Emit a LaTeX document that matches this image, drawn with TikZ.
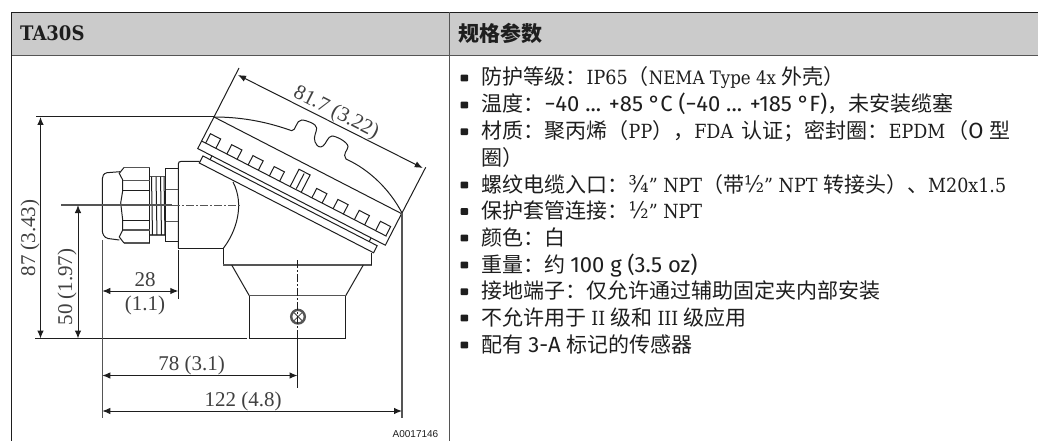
\documentclass[tikz,border=0pt]{standalone}
\usepackage{fontspec}
\setmainfont{DejaVu Serif Condensed}
\newfontfamily\cjk{Noto Sans CJK SC}
\newfontfamily\dimfont{Liberation Serif}
\newfontfamily\tagfont{Liberation Sans}
\newfontfamily\numfont{Fira Sans}
\newcommand{\Z}[1]{{\cjk\fontsize{21}{22}\selectfont #1}}
\newcommand{\Q}[1]{{\numfont\fontsize{22}{22}\selectfont #1}}
\definecolor{inkc}{HTML}{1E1E1E}
\definecolor{headc}{HTML}{CBCBCB}
\definecolor{rulec}{HTML}{555555}
\definecolor{dimc}{HTML}{404040}
\usetikzlibrary{arrows.meta}
\tikzset{
  x=1pt,y=-1pt,
  ink/.style={draw=inkc,line width=1pt},
  soft/.style={draw=rulec,line width=1.4pt},
  dimtip/.style={draw=inkc,line width=1pt,{Latex[length=8pt,width=6.5pt]}-{Latex[length=8pt,width=6.5pt]}},
  dimtext/.style={font=\dimfont\fontsize{21}{22}\selectfont,text=dimc,inner sep=0pt},
  row/.style={anchor=base west,inner sep=0pt,text=inkc,font=\fontsize{19.5}{22}\selectfont},
  bullet/.style={fill=inkc,draw=none,rounded corners=0.8pt},
  toprule/.style={draw=inkc,line width=1.2pt},
  midrule/.style={draw=rulec,line width=1.6pt},
}
\newcommand{\itemrow}[3]{%
  \fill[bullet] (460.5,#1-3.3) rectangle (468,#1+3.3);
  \node[row] (#2) at (481.5,#1+7) {#3};}
\begin{document}
\begin{tikzpicture}
\useasboundingbox (0,0) rectangle (1038,441);
\fill[white] (0,0) rectangle (1038,441);
% table
\fill[headc] (11.5,12.5) rectangle (1038,55);
\draw[toprule] (11.5,12.5) -- (1038,12.5);
\draw[midrule] (11.5,55.5) -- (1038,55.5);
\draw[draw=inkc,line width=1pt] (11.5,12.5) -- (11.5,441);
\draw[draw=rulec,line width=1.2pt] (449.5,12.5) -- (449.5,441);
\node[row,font=\bfseries\fontsize{20}{22}\selectfont] (h1) at (20,41) {TA30S};
\node[row,font=\cjk\bfseries\fontsize{21}{22}\selectfont] (h2) at (458,42) {规格参数};
% rows
\itemrow{78}{r1}{\Z{防护等级：}IP65\Z{（}{\fontsize{18.5}{22}\selectfont NEMA Type 4x }\Z{外壳）}}
\itemrow{105}{r2}{\Z{温度：}\Q{−40 ... +85 °C (−40 ... +185 °F)}\Z{，未安装缆塞}}
\itemrow{131.7}{r3}{\Z{材质：聚丙烯（}PP\Z{），}FDA\hspace{3pt} \Z{认证；密封圈：}EPDM\hspace{2pt}\Z{（}\Q{O} \Z{型}}
\node[row] (r3b) at (481.5,165) {\Z{圈）}};
\itemrow{185}{r4}{\Z{螺纹电缆入口：}{\fontsize{23}{22}\selectfont ¾}" NPT\Z{（带}{\fontsize{23}{22}\selectfont ½}" NPT \Z{转接头）、}M20x1.5}
\itemrow{211.5}{r5}{\Z{保护套管连接：}{\fontsize{23}{22}\selectfont ½}" NPT}
\itemrow{238}{r6}{\Z{颜色：白}}
\itemrow{265}{r7}{\Z{重量：约 }\Q{100 g (3.5 oz)}}
\itemrow{291.7}{r8}{\Z{接地端子：仅允许通过辅助固定夹内部安装}}
\itemrow{318}{r9}{\Z{不允许用于 }II \Z{级和 }III \Z{级应用}}
\itemrow{345}{r10}{\Z{配有 }\Q{3-A} \Z{标记的传感器}}
% housing body
\draw[ink] (178.3,248.3) -- (178.3,164) .. controls (178.3,162) and (179.5,161.5) .. (181.5,161.3) -- (199.5,161.3);
\draw[ink] (178.3,248.3) -- (223.3,248.3) -- (223.3,265);
\draw[ink] (223.3,248.3) .. controls (236,232) and (245,205) .. (233,182);
\draw[soft] (223.3,265) -- (371.7,265);
\draw[ink] (371.7,265) -- (371.7,253);
\draw[ink] (231.7,265) -- (249.3,295.7);
\draw[ink] (363.3,265) -- (345.7,295.7);
\draw[soft] (249.3,295.7) -- (345.7,295.7);
\draw[ink] (249.3,295.7) -- (249.3,338.5) -- (345.7,338.5) -- (345.7,295.7);
% earth screw
\draw[draw=rulec,line width=2.4pt] (298,316.7) circle (6.8);
\draw[draw=rulec,line width=1pt] (294,312.7) -- (302,320.7) (302,312.7) -- (294,320.7);
% cable gland
\draw[ink] (120,171.7) -- (107,172.7) .. controls (103.5,173.5) and (102.3,176) .. (102.3,179) -- (102.3,230) .. controls (102.3,234) and (104,237.5) .. (108,238.5) -- (119.3,240);
\draw[soft] (124,167.5) -- (149.5,167.5);
\draw[soft] (124,243) -- (149.5,243);
\draw[ink] (149.5,167.5) -- (149.5,243);
\draw[ink] (124,167.5) -- (119.3,173.3) -- (122.7,180) -- (122.7,190.7) -- (120.7,203) -- (122.7,220) -- (122.7,230) -- (119.3,237) -- (124,243);
\draw[soft] (122.7,180.5) -- (149.5,180.5);
\draw[ink] (122.7,190.7) -- (149.5,190.7) (122.7,220) -- (149.5,220);
\draw[soft] (122.7,230) -- (149.5,230);
\draw[soft] (150,176.7) -- (165.7,176.7) (150,235) -- (165.7,235);
\draw[ink] (151.5,176.7) -- (152.5,235) (156,176.7) -- (157,235) (160.5,176.7) -- (161.5,235) (164,176.7) -- (165,235);
\draw[ink] (165.7,168) rectangle (178.3,241.7);
\draw[soft] (165.7,189.3) -- (178.3,189.3) (165.7,221.7) -- (178.3,221.7);
% lid, in its own tilted axes
\begin{scope}[shift={(214,117)},x={(0.889pt,-0.458pt)},y={(-0.458pt,-0.889pt)}]
\draw[ink] (0,0) -- (211,0);
\draw[ink] (0,0) -- (0,35.5) -- (211,35.5) -- (211,0);
\draw[ink] (0,27) -- (208,27);
\foreach \s in {4.5,28.4,52.3,76.2,124,147.9,171.8,195.7}
  \draw[ink] (\s,27) -- (\s,16.5) -- (\s+11.5,16.5) -- (\s+11.5,27);
\draw[ink] (99.5,27) -- (99.5,7.5) -- (112,7.5) -- (112,27);
\draw[ink] (106,9) -- (106,26);
\draw[ink] (8,39.7) -- (204,39.7) -- (204,47.6) -- (8,47.6) -- cycle;
\draw[ink] (16,35.5) -- (16,39.7) (195,35.5) -- (195,39.7);
\end{scope}
\draw[ink] (214,117) .. controls (245,117) and (270,123) .. (291.7,130.7)
  .. controls (296,131) and (296,120) .. (301.7,120)
  .. controls (306,120) and (316.7,124) .. (316.7,128)
  .. controls (316.7,132) and (313,137) .. (315,141.7)
  .. controls (317,147) and (320,148) .. (323,146)
  .. controls (326,144) and (328,136) .. (332,136)
  .. controls (336,136) and (348,142) .. (348,146.7)
  .. controls (348,150) and (342,154) .. (346,159)
  .. controls (370,170) and (390,190) .. (402,213);
% coordinates for the dimension lines
\coordinate (t87) at (40.5,117);
\coordinate (b87) at (40.5,338.5);
\coordinate (t50) at (78,205);
\coordinate (b50) at (78,338.5);
\coordinate (l28) at (102.3,291);
\coordinate (r28) at (178.3,291);
\coordinate (l78) at (102.3,375.5);
\coordinate (r78) at (297.5,375.5);
\coordinate (l122) at (102.3,411);
\coordinate (r122) at (402,411);
\coordinate (a81) at (238,75);
\coordinate (b81) at (422.7,168);
% extension and centre lines
\draw[ink] (36,116.7) -- (214,116.7);
\draw[ink] (35,338.5) -- (246.5,338.5);
\draw[ink] (214,117) -- (239,68);
\draw[ink] (402,213) -- (425.7,167.3);
\draw[draw=rulec,line width=1.2pt] (402,213) -- (402,418);
\draw[draw=rulec,line width=1.2pt] (102.3,240) -- (102.3,418);
\draw[ink] (178.3,250) -- (178.3,299);
\draw[draw=rulec,line width=1.4pt] (61,205) -- (172,205);
\draw[draw=rulec,line width=1pt,dash pattern=on 8pt off 2pt on 2pt off 2pt] (172,205) -- (241,205);
\draw[draw=inkc,line width=1pt,dash pattern=on 8pt off 2pt on 2pt off 2pt] (297.5,260) -- (297.5,338);
\draw[ink] (297.5,338) -- (297.5,388);
% dimensions
\draw[dimtip] (t87) -- (b87);
\draw[dimtip] (t50) -- (b50);
\draw[dimtip] (l28) -- (r28);
\draw[dimtip] (l78) -- (r78);
\draw[dimtip] (l122) -- (r122);
\draw[dimtip] (a81) -- (b81);
\node[dimtext,rotate=90] (n87) at (30,238) {87 (3.43)};
\node[dimtext,rotate=90] (n50) at (67,287) {50 (1.97)};
\node[dimtext] (n28) at (145,280) {28};
\node[dimtext] (n11) at (145,305) {(1.1)};
\node[dimtext] (n78) at (191.5,365) {78 (3.1)};
\node[dimtext] (n122) at (243,401) {122 (4.8)};
\node[dimtext,rotate=-27] (n817) at (336,113) {81.7 (3.22)};
\node[inner sep=0pt,text=inkc,font=\tagfont\fontsize{10}{11}\selectfont] (tag) at (415.5,434) {A0017146};
\end{tikzpicture}
\end{document}
